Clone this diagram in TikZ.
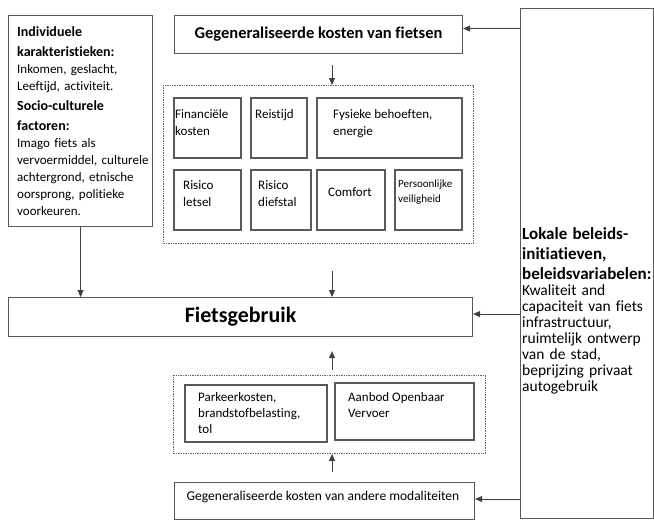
\documentclass[tikz,border=0pt]{standalone}
\usepackage{fontspec}
\setmainfont{Carlito}[Ligatures={NoCommon}]
\usetikzlibrary{arrows.meta}

\begin{document}
\begin{tikzpicture}[x=1pt,y=-1pt,
  box/.style={draw=black!65, line width=1.1pt, inner sep=0pt, anchor=north west},
  grp/.style={draw=black!60, line width=0.9pt, dash pattern=on 1.4pt off 1pt, inner sep=0pt, anchor=north west},
  cel/.style={draw=black!65, line width=1.1pt},
  lbl/.style={anchor=north west, inner sep=0pt, align=left, font=\fontsize{13}{17}\selectfont},
  pijl/.style={draw=black!75, line width=0.9pt, -{Triangle[length=7pt,width=6pt]}}]
  \useasboundingbox (0,0) rectangle (654,520);

  % Individuele en socio-culturele factoren (links)
  \node[box, minimum width=144pt, minimum height=211pt] (indiv) at (8,15) {};
  \node[lbl, text width=135pt] (indivtxt) at (17,26) {%
    {\bfseries\fontsize{14}{20}\selectfont Individuele\\karakteristieken:\par}
    Inkomen, geslacht,\\Leeftijd, activiteit.\par
    {\bfseries\fontsize{14}{20}\selectfont Socio-culturele\\factoren:\par}
    Imago fiets als\\vervoermiddel, culturele\\achtergrond, etnische\\oorsprong, politieke\\voorkeuren.};

  % Beleid (rechts)
  \node[box, minimum width=133pt, minimum height=510pt] (beleid) at (520,8) {};
  \node[lbl, text width=135pt, font=\fontsize{15.5}{16}\selectfont] (beleidtxt) at (522,227) {%
    {\bfseries\fontsize{17}{20}\selectfont Lokale beleids-\\initiatieven,\\beleidsvariabelen:\par}
    Kwaliteit and\\capaciteit van fiets\\infrastructuur,\\ruimtelijk ontwerp\\van de stad,\\beprijzing privaat\\autogebruik};

  % Kosten van fietsen
  \node[box, minimum width=288pt, minimum height=38pt, font=\bfseries\fontsize{16.5}{20}\selectfont] (fiets) at (174,15) {Gegeneraliseerde kosten van fietsen};

  % Onderdelen van de kosten
  \node[grp, minimum width=310pt, minimum height=158pt] (kosten) at (163,85) {};
  % bovenste rij
  \draw[cel] (174,98) rectangle (241,158);
  \draw[cel] (251,98) rectangle (307,158);
  \draw[cel] (317,98) rectangle (462,158);
  % onderste rij
  \draw[cel] (174,170) rectangle (241,230);
  \draw[cel] (251,170) rectangle (311,230);
  \draw[cel] (317,170) rectangle (385,230);
  \draw[cel] (395,170) rectangle (462,230);
  \node[lbl] (fin) at (175,109) {Financiële\\kosten};
  \node[lbl] (reis) at (255,109) {Reistijd};
  \node[lbl] (fysiek) at (333,109) {Fysieke behoeften,\\energie};
  \node[lbl] (letsel) at (183,180) {Risico\\letsel};
  \node[lbl] (diefstal) at (258,180) {Risico\\diefstal};
  \node[lbl] (comfort) at (328,187) {Comfort};
  \node[lbl, font=\fontsize{11}{15}\selectfont] (veilig) at (398,180) {Persoonlijke\\veiligheid};

  % Fietsgebruik
  \node[box, minimum width=464pt, minimum height=39pt, font=\bfseries\fontsize{22}{26}\selectfont] (gebruik) at (8,297) {Fietsgebruik};

  % Andere modaliteiten
  \node[grp, minimum width=312pt, minimum height=78pt] (overig) at (173,375) {};
  \draw[cel] (185,385) rectangle (327,442);
  \draw[cel] (335,383) rectangle (474,440);
  \node[lbl, font=\fontsize{13}{16}\selectfont] (parkeer) at (198,392) {Parkeerkosten,\\brandstofbelasting,\\tol};
  \node[lbl, font=\fontsize{13}{16}\selectfont] (ov) at (348,392) {Aanbod Openbaar\\Vervoer};
  \node[box, minimum width=300pt, minimum height=37pt] (andere) at (174,482) {};
  \node[inner sep=0pt, font=\fontsize{13.5}{16}\selectfont] (anderetxt) at (323,497) {Gegeneraliseerde kosten van andere modaliteiten};

  % Pijlen
  \coordinate (mid) at (332,0);
  \coordinate (a1) at ([yshift=6pt]fiets.east);
  \coordinate (a2) at ([yshift=3pt]gebruik.east);
  \coordinate (a3) at ([yshift=2pt]andere.east);
  \draw[pijl] (beleid.west |- a1) -- (a1);
  \draw[pijl] (beleid.west |- a2) -- (a2);
  \draw[pijl] (beleid.west |- a3) -- (a3);
  \draw[pijl, shorten <=11pt] (mid |- fiets.south) -- (mid |- kosten.north);
  \draw[pijl, shorten <=27pt] (mid |- kosten.south) -- (mid |- gebruik.north);
  \draw[pijl] (indiv.south) -- (indiv.south |- gebruik.north);
  \draw[pijl, shorten <=5pt, shorten >=14pt] (mid |- overig.north) -- (mid |- gebruik.south);
  \draw[pijl, shorten <=10pt] (mid |- andere.north) -- (mid |- overig.south);
\end{tikzpicture}
\end{document}
